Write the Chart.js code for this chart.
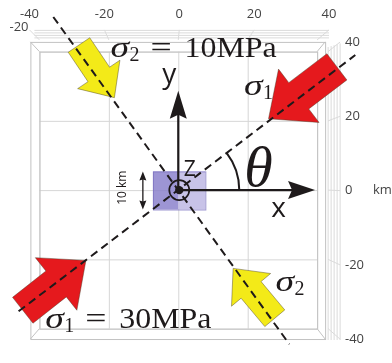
<!DOCTYPE html>
<html>
<head>
<meta charset="utf-8">
<script src="https://cdn.jsdelivr.net/npm/chart.js@4.4.0/dist/chart.umd.min.js"></script>
<style>
  html, body { margin: 0; padding: 0; background: #fff; }
</style>
</head>
<body>
<canvas id="c" width="392" height="363"></canvas>
<script>
// stress field diagram: dashed principal directions, load arrows, source box
const gridValues = [-40, -20, 0, 20, 40];
const topTickLabels = ['-40', '-20', '0', '20', '40'];
const rightTickLabels = ['-40', '-20', '0', '20', '40'];
const stressNames = ['σ', 'σ'];
const stressSubs = ['1', '2'];
const stressMPa = [30, 10];
const sigma1Line = [{x: -46, y: -35}, {x: 51, y: 39}];
const sigma2Line = [{x: -36, y: 50}, {x: 32, y: -44.5}];
const arrowStress = [0, 0, 1, 1];
const arrowTips = [[26.0, 20.6], [-26.6, -20.3], [-18.4, 26.7], [15.8, -22.6]];
const arrowTails = [[45.7, 35.6], [-44.8, -34.7], [-28.6, 41.9], [27.8, -37.0]];
const sourceBoxX = [-7.3, 0, 7.8];
const sourceBoxY = [-5.6, 5.4];
const axisTips = {x: 39.4, y: 28.7};
const boxSizeLabel = '10 km';

const ink = '#1e1a1b';
const serif = '"Liberation Serif", "DejaVu Serif", serif';
const sans = '"Open Sans", "DejaVu Sans", sans-serif';

function seg(ctx, x1, y1, x2, y2) { ctx.beginPath(); ctx.moveTo(x1, y1); ctx.lineTo(x2, y2); ctx.stroke(); }

function blockArrow(ctx, tip, tail, sw, hw, hl, fill) {
  const dx = tip[0] - tail[0], dy = tip[1] - tail[1];
  const len = Math.hypot(dx, dy), ux = dx / len, uy = dy / len, nx = -uy, ny = ux;
  const bx = tip[0] - ux * hl, by = tip[1] - uy * hl;
  const pts = [
    [tail[0] + nx * sw / 2, tail[1] + ny * sw / 2], [bx + nx * sw / 2, by + ny * sw / 2],
    [bx + nx * hw / 2, by + ny * hw / 2], tip, [bx - nx * hw / 2, by - ny * hw / 2],
    [bx - nx * sw / 2, by - ny * sw / 2], [tail[0] - nx * sw / 2, tail[1] - ny * sw / 2]
  ];
  ctx.beginPath();
  pts.forEach((p, i) => i ? ctx.lineTo(p[0], p[1]) : ctx.moveTo(p[0], p[1]));
  ctx.closePath();
  ctx.fillStyle = fill; ctx.fill();
  ctx.lineWidth = 0.8; ctx.strokeStyle = 'rgba(70,60,40,0.55)'; ctx.stroke();
}

function headAt(ctx, tx, ty, ux, uy, hl, hw, notch) {
  const nx = -uy, ny = ux;
  ctx.beginPath();
  ctx.moveTo(tx, ty);
  ctx.lineTo(tx - ux * hl + nx * hw, ty - uy * hl + ny * hw);
  ctx.lineTo(tx - ux * (hl - notch), ty - uy * (hl - notch));
  ctx.lineTo(tx - ux * hl - nx * hw, ty - uy * hl - ny * hw);
  ctx.closePath(); ctx.fill();
}

// text squeezed/stretched horizontally to mimic the wider TeX glyphs
function wideText(ctx, txt, x, y, sx) {
  ctx.save(); ctx.translate(x, y); ctx.scale(sx, 1); ctx.fillText(txt, 0, 0); ctx.restore();
}

function sigmaLabel(ctx, x, y, k, withValue) {
  ctx.fillStyle = ink; ctx.textAlign = 'left'; ctx.textBaseline = 'alphabetic';
  ctx.font = `italic 29px ${serif}`;
  wideText(ctx, stressNames[k], x, y, 1.3);
  ctx.font = `20px ${serif}`;
  ctx.fillText(stressSubs[k], x + 19, y + 4);
  if (withValue) {
    ctx.font = `29px ${serif}`;
    wideText(ctx, '=', x + 40, y, 1.3);
    wideText(ctx, stressMPa[k] + 'MPa', x + 74, y, 1.1);
  }
}

const diagram = {
  id: 'diagram',
  beforeDatasetsDraw(chart) {
    const {ctx, scales} = chart;
    const X = v => scales.xi.getPixelForValue(v), Y = v => scales.yi.getPixelForValue(v);
    const L = X(-40), R = X(40), T = Y(40), B = Y(-40);
    const oL = X(-42.6), oR = X(42.3), oT = Y(42.8), oB = Y(-43.0);
    ctx.save();
    ctx.lineWidth = 1;
    // perspective strips above and to the right
    ctx.strokeStyle = '#dadada';
    [-11.5, -9, -6.5, -4].forEach(d => seg(ctx, oL + 4, oT + d, scales.x.right, oT + d));
    gridValues.forEach(v => seg(ctx, scales.x.getPixelForValue(v), oT - 12, X(v), oT - 2));
    [3, 6, 9, 12, 15].forEach(d => seg(ctx, oR + d, oT + 6 - d * 0.3, oR + d, oB + 1));
    gridValues.forEach(v => seg(ctx, oR + 3, Y(v), oR + 15, scales.y.getPixelForValue(v)));
    // grid
    ctx.strokeStyle = '#d6d6d6';
    gridValues.forEach(v => { seg(ctx, X(v) + 0.5, T, X(v) + 0.5, B); seg(ctx, L, Y(v) + 0.5, R, Y(v) + 0.5); });
    // box frame
    ctx.strokeStyle = '#c2c2c2';
    ctx.strokeRect(L + 0.5, T + 0.5, R - L, B - T);
    ctx.strokeRect(oL + 0.5, oT + 0.5, oR - oL, oB - oT);
    seg(ctx, L, T, oL, oT); seg(ctx, R, T, oR, oT); seg(ctx, L, B, oL, oB); seg(ctx, R, B, oR, oB);
    // source box
    ctx.fillStyle = 'rgba(140,130,205,0.85)';
    ctx.fillRect(X(sourceBoxX[0]), Y(sourceBoxY[1]), X(sourceBoxX[1]) - X(sourceBoxX[0]), Y(sourceBoxY[0]) - Y(sourceBoxY[1]));
    ctx.fillStyle = 'rgba(190,184,228,0.85)';
    ctx.fillRect(X(sourceBoxX[1]), Y(sourceBoxY[1]), X(sourceBoxX[2]) - X(sourceBoxX[1]), Y(sourceBoxY[0]) - Y(sourceBoxY[1]));
    ctx.strokeStyle = 'rgba(120,110,190,0.7)';
    ctx.strokeRect(X(sourceBoxX[0]) + 0.5, Y(sourceBoxY[1]) + 0.5, X(sourceBoxX[2]) - X(sourceBoxX[0]), Y(sourceBoxY[0]) - Y(sourceBoxY[1]));
    // load arrows
    arrowTips.forEach((t, i) => {
      const tip = [X(t[0]), Y(t[1])], tail = [X(arrowTails[i][0]), Y(arrowTails[i][1])];
      if (arrowStress[i] === 0) blockArrow(ctx, tip, tail, 33, 67, 38, '#e5191d');
      else blockArrow(ctx, tip, tail, 26, 51, 28, '#f3ea18');
    });
    ctx.restore();
  },
  afterDatasetsDraw(chart) {
    const {ctx, scales} = chart;
    const X = v => scales.xi.getPixelForValue(v), Y = v => scales.yi.getPixelForValue(v);
    const cx = X(0), cy = Y(0);
    ctx.save();
    ctx.strokeStyle = ink; ctx.fillStyle = ink; ctx.lineWidth = 2.2;
    // coordinate axes
    const ty = Y(axisTips.y), tx = X(axisTips.x);
    seg(ctx, cx, cy, cx, ty + 20);
    headAt(ctx, cx, ty, 0, -1, 28, 8.5, 4);
    seg(ctx, cx, cy, tx - 20, cy);
    headAt(ctx, tx, cy, 1, 0, 27, 9, 4);
    // z marker
    ctx.lineWidth = 1.7;
    ctx.beginPath(); ctx.arc(cx + 1, cy, 10, 0, Math.PI * 2); ctx.stroke();
    ctx.beginPath(); ctx.arc(cx + 1, cy, 4.2, 0, Math.PI * 2); ctx.fill();
    // theta arc up to sigma1 direction
    const p1 = sigma1Line[1];
    const ang = Math.atan2(cy - Y(p1.y), X(p1.x) - cx);
    ctx.lineWidth = 2;
    ctx.beginPath(); ctx.arc(cx, cy, 61, -ang, 0); ctx.stroke();
    // 10 km bar
    const bx = X(-10.2), byT = Y(sourceBoxY[1]), byB = Y(sourceBoxY[0]);
    ctx.lineWidth = 1.3;
    seg(ctx, bx, byT + 5, bx, byB - 5);
    headAt(ctx, bx, byT, 0, -1, 9, 3.5, 1);
    headAt(ctx, bx, byB, 0, 1, 9, 3.5, 1);
    ctx.save();
    ctx.translate(X(-16.1), Y(0.7)); ctx.rotate(-Math.PI / 2);
    ctx.font = `12px ${sans}`; ctx.textAlign = 'center'; ctx.textBaseline = 'middle';
    ctx.fillText(boxSizeLabel, 0, 0);
    ctx.restore();
    // axis letters
    ctx.textAlign = 'center'; ctx.textBaseline = 'alphabetic';
    ctx.font = `28px ${sans}`;
    ctx.fillText('y', X(-2.6), Y(31.0));
    ctx.fillText('x', X(28.9), Y(-7.9));
    ctx.font = `21px ${sans}`;
    ctx.fillText('Z', X(3.3), Y(4.0));
    ctx.font = `italic 58px ${serif}`;
    ctx.textAlign = 'left';
    ctx.fillText('θ', X(19.0), Y(1.25));
    // stress labels
    sigmaLabel(ctx, X(-19.5), Y(38.3), 1, true);
    sigmaLabel(ctx, X(18.9), Y(27.5), 0, false);
    sigmaLabel(ctx, X(-38.3), Y(-39.7), 0, true);
    sigmaLabel(ctx, X(28.0), Y(-29.2), 1, false);
    // extra axis text
    ctx.fillStyle = '#444'; ctx.font = `13px ${sans}`;
    ctx.textAlign = 'center'; ctx.textBaseline = 'middle';
    ctx.fillText('-20', 19, 27);
    ctx.textAlign = 'left';
    ctx.fillText('km', scales.y.right + 4, scales.y.getPixelForValue(0));
    ctx.restore();
  }
};

const lineStyle = {borderColor: ink, borderWidth: 2, borderDash: [8, 5], pointRadius: 0, showLine: true, clip: false, xAxisID: 'xi', yAxisID: 'yi'};

new Chart(document.getElementById('c'), {
  type: 'scatter',
  data: {
    datasets: [
      Object.assign({data: sigma1Line}, lineStyle),
      Object.assign({data: sigma2Line}, lineStyle)
    ]
  },
  options: {
    responsive: false,
    animation: false,
    events: [],
    layout: {padding: {left: 26, right: 23, top: 0, bottom: 11}},
    plugins: {legend: {display: false}, tooltip: {enabled: false}},
    scales: {
      x: {
        type: 'linear', position: 'top', min: -40, max: 40,
        afterBuildTicks: s => { s.ticks = gridValues.map(v => ({value: v})); },
        afterFit: s => { s.height = 42; },
        grid: {display: false, drawTicks: false}, border: {display: false},
        ticks: {padding: 20, color: '#444', font: {family: sans, size: 13}, maxRotation: 0,
          callback: v => topTickLabels[gridValues.indexOf(v)]}
      },
      y: {
        type: 'linear', position: 'right', min: -40, max: 40,
        afterBuildTicks: s => { s.ticks = gridValues.map(v => ({value: v})); },
        afterFit: s => { s.width = 40; },
        grid: {display: false, drawTicks: false}, border: {display: false},
        ticks: {padding: 16, color: '#444', font: {family: sans, size: 13},
          callback: v => rightTickLabels[gridValues.indexOf(v)]}
      },
      xi: {type: 'linear', display: false, min: -42.85, max: 43.42},
      yi: {type: 'linear', display: false, min: -43.05, max: 42.77}
    }
  },
  plugins: [diagram]
});
</script>
</body>
</html>
